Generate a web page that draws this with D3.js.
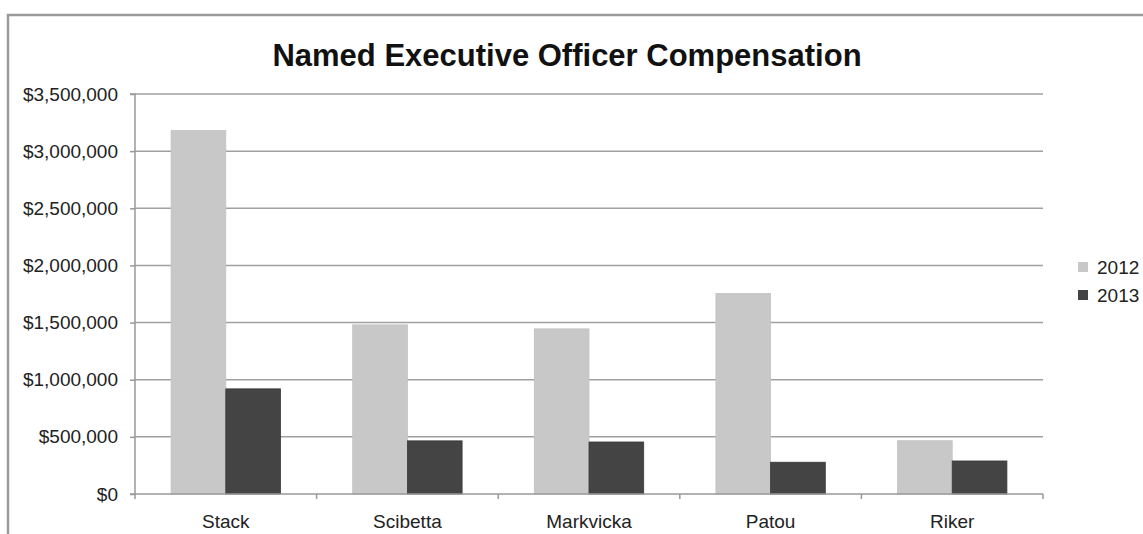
<!DOCTYPE html>
<html>
<head>
<meta charset="utf-8">
<script src="https://cdn.jsdelivr.net/npm/d3@7"></script>
<style>
	body { margin: 0; background: #fff; }
	svg { display: block; font-family: "Liberation Sans", Arial, sans-serif; }
</style>
</head>
<body>
<script>
// Chart data
var officers = ["Stack", "Scibetta", "Markvicka", "Patou", "Riker"];
var years = ["2012", "2013"];
var comp2012 = [3180000, 1480000, 1445000, 1755000, 466000];
var comp2013 = [920000, 465000, 455000, 278000, 289000];
var yTicks = [0, 500000, 1000000, 1500000, 2000000, 2500000, 3000000, 3500000];

var width = 1143, height = 534;

var svg = d3.select("body").append("svg")
	.attr("width", width)
	.attr("height", height);

//Outer frame (only top and left edges are visible in the crop)
svg.append("path")
	.attr("d", "M8," + height + "V15H" + width)
	.attr("fill", "none")
	.attr("stroke", "#9a9a9a")
	.attr("stroke-width", 2.5);

svg.append("text")
	.attr("x", 567)
	.attr("y", 66)
	.attr("text-anchor", "middle")
	.attr("font-size", 31)
	.attr("font-weight", "bold")
	.attr("fill", "#111")
	.text("Named Executive Officer Compensation");

var x = d3.scaleBand()
	.domain(officers)
	.range([135, 1043]);

var x1 = d3.scaleBand()
	.domain(years)
	.range([0, x.bandwidth()])
	.paddingOuter(0.66);

var y = d3.scaleLinear()
	.domain([0, 3500000])
	.range([494, 94]);

var fmt = d3.format("$,");

//Horizontal gridlines
svg.append("g")
	.selectAll("line")
	.data(yTicks.slice(1))
	.enter().append("line")
	.attr("x1", 135).attr("x2", 1043)
	.attr("y1", function(d){ return y(d); })
	.attr("y2", function(d){ return y(d); })
	.attr("stroke", "#a0a0a0")
	.attr("stroke-width", 1.5);

var series = [
	{year: "2012", values: comp2012, fill: "#c8c8c8", stroke: "#c2c2c2"},
	{year: "2013", values: comp2013, fill: "#444444", stroke: "#3a3a3a"}
];

series.forEach(function(s){
	svg.append("g")
		.selectAll("rect")
		.data(officers)
		.enter().append("rect")
		.attr("x", function(d){ return x(d) + x1(s.year); })
		.attr("width", x1.bandwidth())
		.attr("y", function(d, i){ return y(s.values[i]); })
		.attr("height", function(d, i){ return y(0) - y(s.values[i]); })
		.attr("fill", s.fill)
		.attr("stroke", s.stroke)
		.attr("stroke-width", 0.8);
});

//Y axis
var yAxis = svg.append("g")
	.attr("transform", "translate(135,0)")
	.call(d3.axisLeft(y).tickValues(yTicks).tickFormat(fmt).tickSize(5).tickPadding(12));

//X axis with ticks at the band edges
var xAxis = svg.append("g")
	.attr("transform", "translate(0,494)")
	.call(d3.axisBottom(x).tickSize(0).tickPadding(21));

xAxis.selectAll(".edge")
	.data(officers.concat([null]))
	.enter().append("line")
	.attr("class", "edge")
	.attr("x1", function(d){ return d ? x(d) : x.range()[1]; })
	.attr("x2", function(d){ return d ? x(d) : x.range()[1]; })
	.attr("y1", 0).attr("y2", 5)
	.attr("stroke", "#999")
	.attr("stroke-width", 1.5);

[yAxis, xAxis].forEach(function(ax){
	ax.select(".domain").attr("stroke", "#999").attr("stroke-width", 1.5);
	ax.selectAll(".tick line").attr("stroke", "#999").attr("stroke-width", 1.5);
	ax.selectAll(".tick text")
		.attr("font-family", "Liberation Sans, Arial, sans-serif")
		.attr("font-size", 19)
		.attr("fill", "#222");
});
yAxis.select(".domain").attr("d", "M-5,494H0V94H-5");
xAxis.select(".domain").attr("d", "M135,0H1043");

//Legend
var legend = svg.append("g")
	.selectAll("g")
	.data(series)
	.enter().append("g")
	.attr("transform", function(d, i){ return "translate(1078," + (262 + i * 28) + ")"; });

legend.append("rect")
	.attr("width", 10).attr("height", 10)
	.attr("fill", function(d){ return d.fill; });

legend.append("text")
	.attr("x", 19).attr("y", 5)
	.attr("dy", "0.35em")
	.attr("font-size", 19)
	.attr("fill", "#222")
	.text(function(d){ return d.year; });
</script>
</body>
</html>
